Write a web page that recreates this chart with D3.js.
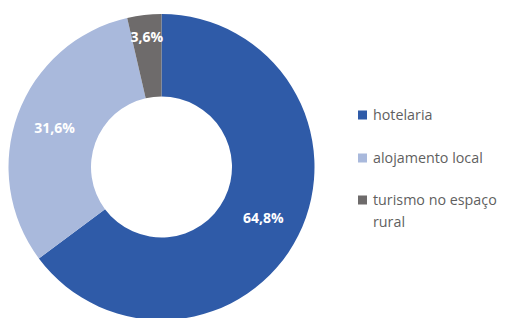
<!DOCTYPE html>
<html>
<head>
<meta charset="utf-8">
<script src="https://cdn.jsdelivr.net/npm/d3@7"></script>
<style>
  body { margin: 0; background: #fff; }
  svg { display: block; font-family: "Open Sans", sans-serif; }
</style>
</head>
<body>
<svg id="chart"></svg>
<script>
// data
var categories = ['hotelaria', 'alojamento local', 'turismo no espaço rural']
var values = [64.8, 31.6, 3.6]
var colors = ['#2f5ba8', '#a9b9dc', '#6e6b6b']

var svg = d3.select('#chart').attr('width', 508).attr('height', 318)
var cx = 161.5, cy = 167,
    outerR = 153, innerR = 70.5

var pie = d3.pie().sort(null).value(d => d)
var arcs = pie(values)

var arc = d3.arc().innerRadius(innerR).outerRadius(outerR)
var labelArc = d3.arc().innerRadius(114).outerRadius(114)
var smallLabelArc = d3.arc().innerRadius(131).outerRadius(131)

var g = svg.append('g').attr('transform', 'translate(' + cx + ',' + cy + ')')

g.selectAll('path')
    .data(arcs)
  .enter().append('path')
    .attr('d', arc)
    .attr('fill', (d, i) => colors[i])

var fmt = v => d3.format('.1f')(v).replace('.', ',') + '%'

g.selectAll('text')
    .data(arcs)
  .enter().append('text')
    .attr('transform', d => {
        var c = (d.endAngle - d.startAngle) < 0.5 ? smallLabelArc.centroid(d) : labelArc.centroid(d)
        return 'translate(' + c + ')'
    })
    .attr('text-anchor', 'middle')
    .attr('dy', '0.35em')
    .attr('fill', '#fff')
    .attr('font-size', 14)
    .attr('font-weight', 'bold')
    .text(d => fmt(d.data))

// legend
var legend = svg.append('g').attr('transform', 'translate(358,0)')
var legendY = [115, 158, 200]

var item = legend.selectAll('g')
    .data(categories)
  .enter().append('g')
    .attr('transform', (d, i) => 'translate(0,' + legendY[i] + ')')

item.append('rect')
    .attr('x', 0).attr('y', -4.5)
    .attr('width', 9).attr('height', 9)
    .attr('fill', (d, i) => colors[i])

item.append('text')
    .attr('x', 15)
    .attr('font-size', 14.3)
    .attr('fill', '#5f5f5f')
    .each(function(d) {
        var t = d3.select(this)
        var lines = d === 'turismo no espaço rural' ? ['turismo no espaço', 'rural'] : [d]
        lines.forEach((l, j) => {
            t.append('tspan').attr('x', 15).attr('dy', j === 0 ? '0.35em' : 22).text(l)
        })
    })
</script>
</body>
</html>
